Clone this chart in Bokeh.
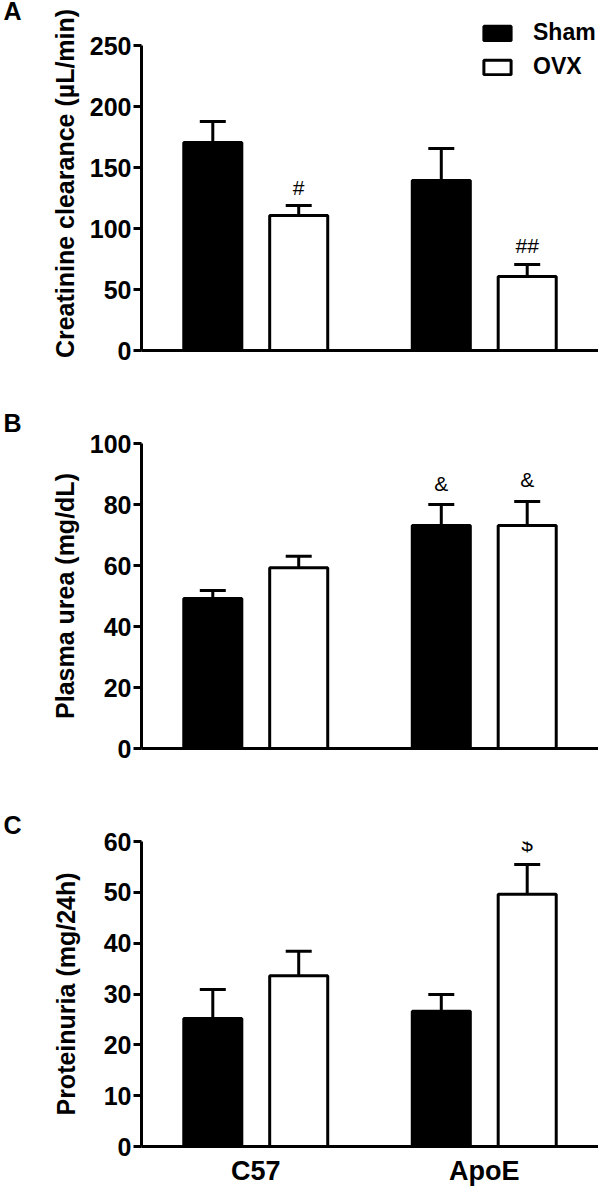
from bokeh.plotting import figure
from bokeh.models import (FactorRange, Range1d, FixedTicker, Whisker, TeeHead,
                          ColumnDataSource, LabelSet, Title)
from bokeh.transform import dodge
from bokeh.layouts import column
from bokeh.embed import file_html
from bokeh.resources import INLINE
from bokeh.core.properties import value

# ---------------- data ----------------
groups = ["C57", "ApoE"]
series = ["Sham", "OVX"]

# A: creatinine clearance (µL/min)
crcl_sham = [170.5, 139.3]
crcl_sham_sem = [17.2, 26.3]
crcl_ovx = [110.7, 60.7]
crcl_ovx_sem = [8.1, 9.8]
crcl_sham_marks = [None, None]
crcl_ovx_marks = ["#", "##"]
crcl_ticks = [0, 50, 100, 150, 200, 250]

# B: plasma urea (mg/dL)
urea_sham = [49.2, 73.1]
urea_sham_sem = [2.6, 6.9]
urea_ovx = [59.3, 73.1]
urea_ovx_sem = [3.7, 7.9]
urea_sham_marks = [None, "&"]
urea_ovx_marks = [None, "&"]
urea_ticks = [0, 20, 40, 60, 80, 100]

# C: proteinuria (mg/24h)
prot_sham = [25.2, 26.6]
prot_sham_sem = [5.7, 3.3]
prot_ovx = [33.6, 49.6]
prot_ovx_sem = [4.8, 5.9]
prot_sham_marks = [None, None]
prot_ovx_marks = [None, "$"]
prot_ticks = [0, 10, 20, 30, 40, 50, 60]

FONT = "Liberation Sans"
OFFS = {"Sham": -0.188, "OVX": 0.188}
FILLS = {"Sham": "black", "OVX": "white"}
AXIS_PX = 305  # pixel length of the drawn y axis


def panel(letter, ytitle, ticks, sham, sham_sem, ovx, ovx_sem, sham_marks, ovx_marks,
          border_top, extra_top, border_bottom, title_standoff, mark_gap,
          letter_standoff, show_x, legend):
    ymax = ticks[-1] + (ticks[-1] - ticks[0]) * extra_top / AXIS_PX
    p = figure(x_range=FactorRange(*groups, range_padding=0),
               y_range=Range1d(ticks[0], ymax),
               frame_width=457, frame_height=AXIS_PX + extra_top,
               min_border_left=141, min_border_right=0,
               min_border_top=border_top, min_border_bottom=border_bottom,
               output_backend="svg", toolbar_location=None, tools="")
    p.outline_line_color = None
    p.xgrid.grid_line_color = None
    p.ygrid.grid_line_color = None

    p.add_layout(Title(text=letter, align="left", offset=-138, standoff=letter_standoff,
                       text_font=FONT, text_font_style="bold", text_font_size="25px",
                       text_color="black"), "above")

    for name, vals, sems, marks in (("Sham", sham, sham_sem, sham_marks),
                                    ("OVX", ovx, ovx_sem, ovx_marks)):
        src = ColumnDataSource(dict(grp=groups, val=vals,
                                    up=[v + s for v, s in zip(vals, sems)]))
        xd = dodge("grp", OFFS[name], range=p.x_range)
        kw = dict(legend_label=name) if legend else {}
        p.vbar(x=xd, top="val", bottom=0, width=0.254, source=src,
               fill_color=FILLS[name], line_color="black", line_width=3, **kw)
        p.add_layout(Whisker(source=src, base=xd, upper="up", lower="val",
                             dimension="height", line_width=3, line_color="black",
                             upper_head=TeeHead(size=26, line_width=3, line_color="black"),
                             lower_head=None))
        mg = [g for g, m in zip(groups, marks) if m]
        if mg:
            msrc = ColumnDataSource(dict(
                grp=mg,
                y=[v + s for v, s, m in zip(vals, sems, marks) if m],
                t=[m for m in marks if m]))
            p.add_layout(LabelSet(source=msrc, x=dodge("grp", OFFS[name], range=p.x_range),
                                  y="y", text="t", y_offset=mark_gap,
                                  text_align="center", text_baseline="alphabetic",
                                  text_font=value(FONT), text_font_size=value("21px"),
                                  text_color="black"))

    ya = p.yaxis[0]
    ya.ticker = FixedTicker(ticks=ticks)
    ya.bounds = (ticks[0], ticks[-1])
    ya.axis_label = ytitle
    ya.axis_label_text_font = FONT
    ya.axis_label_text_font_style = "bold"
    ya.axis_label_text_font_size = "25px"
    ya.axis_label_text_color = "black"
    ya.axis_label_standoff = title_standoff
    ya.major_label_text_font = FONT
    ya.major_label_text_font_style = "bold"
    ya.major_label_text_font_size = "25px"
    ya.major_label_text_color = "black"
    ya.major_label_standoff = 2
    ya.axis_line_width = 3
    ya.major_tick_line_width = 3
    ya.major_tick_out = 8
    ya.major_tick_in = 0
    ya.minor_tick_line_color = None

    xa = p.xaxis[0]
    xa.axis_line_width = 3
    xa.major_tick_line_color = None
    xa.major_tick_out = 0
    xa.major_tick_in = 0
    xa.major_label_text_font = FONT
    xa.major_label_text_font_style = "bold"
    xa.major_label_text_font_size = "27px"
    xa.major_label_text_color = "black" if show_x else None
    xa.major_label_standoff = 9

    if legend:
        lg = p.legend[0]
        lg.location = (339, 270)
        lg.glyph_width = 34
        lg.glyph_height = 18
        lg.label_standoff = 19
        lg.padding = 0
        lg.margin = 0
        lg.spacing = 7
        lg.border_line_color = None
        lg.background_fill_alpha = 0
        lg.label_text_font = FONT
        lg.label_text_font_style = "bold"
        lg.label_text_font_size = "23px"
        lg.label_text_color = "black"
    return p


pa = panel("A", "Creatinine clearance (µL/min)", crcl_ticks, crcl_sham, crcl_sham_sem,
           crcl_ovx, crcl_ovx_sem, crcl_sham_marks, crcl_ovx_marks,
           16, 29, 47, 8, 11, -17, False, True)
pb = panel("B", "Plasma urea (mg/dL)", urea_ticks, urea_sham, urea_sham_sem,
           urea_ovx, urea_ovx_sem, urea_sham_marks, urea_ovx_marks,
           46, 0, 42, 8, 14, 13, False, False)
pc = panel("C", "Proteinuria (mg/24h)", prot_ticks, prot_sham, prot_sham_sem,
           prot_ovx, prot_ovx_sem, prot_sham_marks, prot_ovx_marks,
           51, 0, 41, 21, 13, 5, True, False)

layout = column(pa, pb, pc, spacing=0)
open("out.html", "w").write(file_html(layout, INLINE))
